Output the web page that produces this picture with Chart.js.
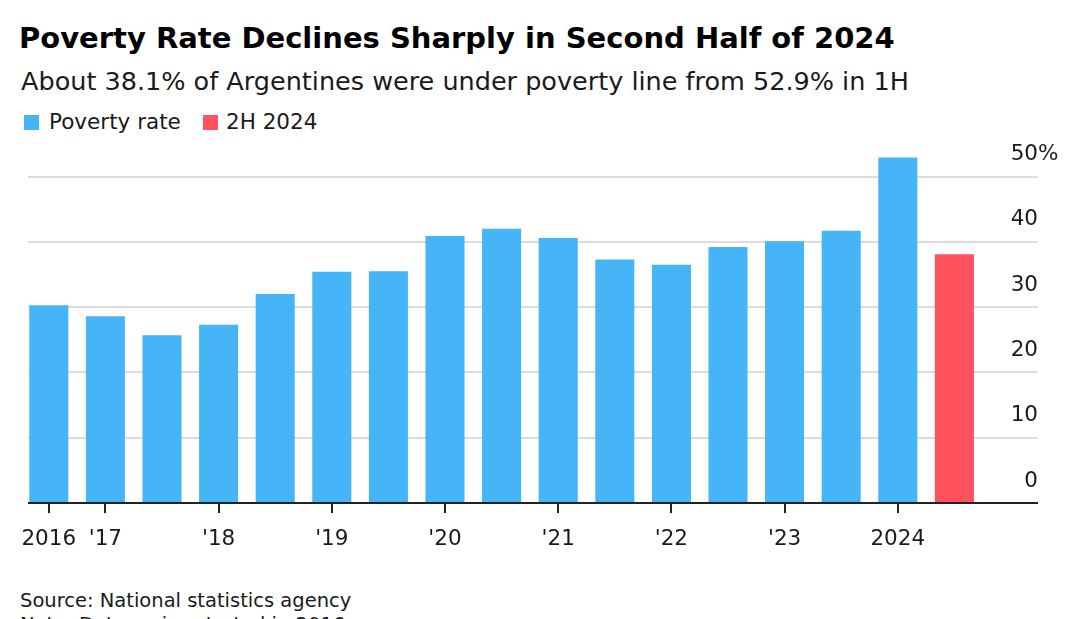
<!DOCTYPE html>
<html>
<head>
<meta charset="utf-8">
<script src="https://cdn.jsdelivr.net/npm/chart.js@4.4.1/dist/chart.umd.min.js"></script>
<style>
  html, body { margin: 0; padding: 0; background: #fff; }
  body { width: 1080px; height: 619px; position: relative; overflow: hidden; font-family: "DejaVu Sans", sans-serif; color: #1a1a1a; }
  .txt { position: absolute; white-space: nowrap; line-height: 1; }
  #title { left: 19px; top: 24px; font-size: 29px; font-weight: bold; color: #000; }
  #subtitle { left: 21px; top: 69px; font-size: 25.5px; }
  .swatch { position: absolute; width: 15px; height: 15px; top: 115px; }
  .legendText { top: 111px; font-size: 21.5px; }
  #source { left: 20px; top: 591px; font-size: 19.5px; }
  #note { left: 20px; top: 615px; font-size: 19.5px; }
  #chartBox { position: absolute; left: 0; top: 0; width: 1080px; height: 619px; }
</style>
</head>
<body>
<div id="title" class="txt">Poverty Rate Declines Sharply in Second Half of 2024</div>
<div id="subtitle" class="txt">About 38.1% of Argentines were under poverty line from 52.9% in 1H</div>
<div class="swatch" style="left:24px; background:#45b5f8;"></div>
<div class="txt legendText" style="left:49px;">Poverty rate</div>
<div class="swatch" style="left:203px; background:#ff525e;"></div>
<div class="txt legendText" style="left:226px;">2H 2024</div>
<div id="source" class="txt">Source: National statistics agency</div>
<div id="note" class="txt">Note: Data series started in 2016</div>
<div id="chartBox"><canvas id="povertyChart"></canvas></div>

<script>
// half-year periods, 2H 2016 .. 2H 2024
const periods = ['2H 2016', '1H 2017', '2H 2017', '1H 2018', '2H 2018', '1H 2019', '2H 2019',
    '1H 2020', '2H 2020', '1H 2021', '2H 2021', '1H 2022', '2H 2022', '1H 2023', '2H 2023',
    '1H 2024', '2H 2024'];
const povertyRate = [30.3, 28.6, 25.7, 27.3, 32.0, 35.4, 35.5, 40.9, 42.0, 40.6, 37.3, 36.5,
    39.2, 40.1, 41.7, 52.9, 38.1];
const xTickIndex = [0, 1, 3, 5, 7, 9, 11, 13, 15];
const xTickLabels = ['2016', "'17", "'18", "'19", "'20", "'21", "'22", "'23", '2024'];
const yTicks = [0, 10, 20, 30, 40, 50];

const blue = '#45b5f8';
const red = '#ff525e';
const axisFont = { family: 'DejaVu Sans', size: 21.5 };

const lastIdx = periods.length - 1;
const rateData = povertyRate.slice(0, lastIdx).map((v, i) => ({ x: i, y: v }));
const latestData = [{ x: lastIdx, y: povertyRate[lastIdx] }];

// small tick marks under the baseline, plus the "%" hanging after the top y label
const axisExtras = {
    id: 'axisExtras',
    afterDraw(chart) {
        const xs = chart.scales.x;
        const ys = chart.scales.y;
        const ctx = chart.ctx;
        const base = ys.getPixelForValue(0);
        ctx.save();
        ctx.strokeStyle = '#222';
        ctx.lineWidth = 2;
        xTickIndex.forEach(v => {
            const px = Math.round(xs.getPixelForValue(v));
            ctx.beginPath();
            ctx.moveTo(px, base);
            ctx.lineTo(px, base + 10);
            ctx.stroke();
        });
        ctx.font = axisFont.size + 'px ' + axisFont.family;
        ctx.fillStyle = '#1a1a1a';
        ctx.textAlign = 'left';
        ctx.textBaseline = 'middle';
        ctx.fillText('%', chart.chartArea.right, ys.getPixelForValue(50) - 22);
        ctx.restore();
    }
};

const ctx = document.getElementById('povertyChart').getContext('2d');
new Chart(ctx, {
    type: 'bar',
    data: {
        datasets: [
            { label: 'Poverty rate', data: rateData, backgroundColor: blue },
            { label: '2H 2024', data: latestData, backgroundColor: red }
        ]
    },
    options: {
        responsive: true,
        maintainAspectRatio: false,
        animation: false,
        layout: { padding: { left: 28, right: 42, top: 150.4, bottom: 60 } },
        datasets: { bar: { grouped: false, categoryPercentage: 1, barPercentage: 0.69 } },
        plugins: {
            legend: { display: false },
            tooltip: { enabled: false }
        },
        scales: {
            x: {
                type: 'linear',
                offset: false,
                min: -0.3675,
                max: 17.477,
                afterBuildTicks: function(scale) {
                    scale.ticks = xTickIndex.map(v => ({ value: v }));
                },
                afterFit: function(scale) { scale.height = 56; },
                grid: { offset: false, drawOnChartArea: false, drawTicks: true, tickLength: 10, color: 'rgba(0,0,0,0)' },
                border: { display: false },
                ticks: {
                    autoSkip: false,
                    maxRotation: 0,
                    padding: 14,
                    font: axisFont,
                    color: '#1a1a1a',
                    callback: function(value) {
                        const k = xTickIndex.indexOf(value);
                        return k >= 0 ? xTickLabels[k] : '';
                    }
                }
            },
            y: {
                position: 'right',
                min: 0,
                max: 54,
                afterBuildTicks: function(scale) {
                    scale.ticks = yTicks.map(v => ({ value: v }));
                },
                afterFit: function(scale) { scale.width = 0; },
                grid: {
                    drawTicks: false,
                    lineWidth: 2,
                    color: c => (c.tick && c.tick.value === 0) ? '#222' : '#dcdcdc'
                },
                border: { display: false },
                ticks: {
                    mirror: true,
                    crossAlign: 'near',
                    padding: 0,
                    labelOffset: -22,
                    font: axisFont,
                    color: '#1a1a1a'
                }
            }
        }
    },
    plugins: [axisExtras]
});
</script>
</body>
</html>
